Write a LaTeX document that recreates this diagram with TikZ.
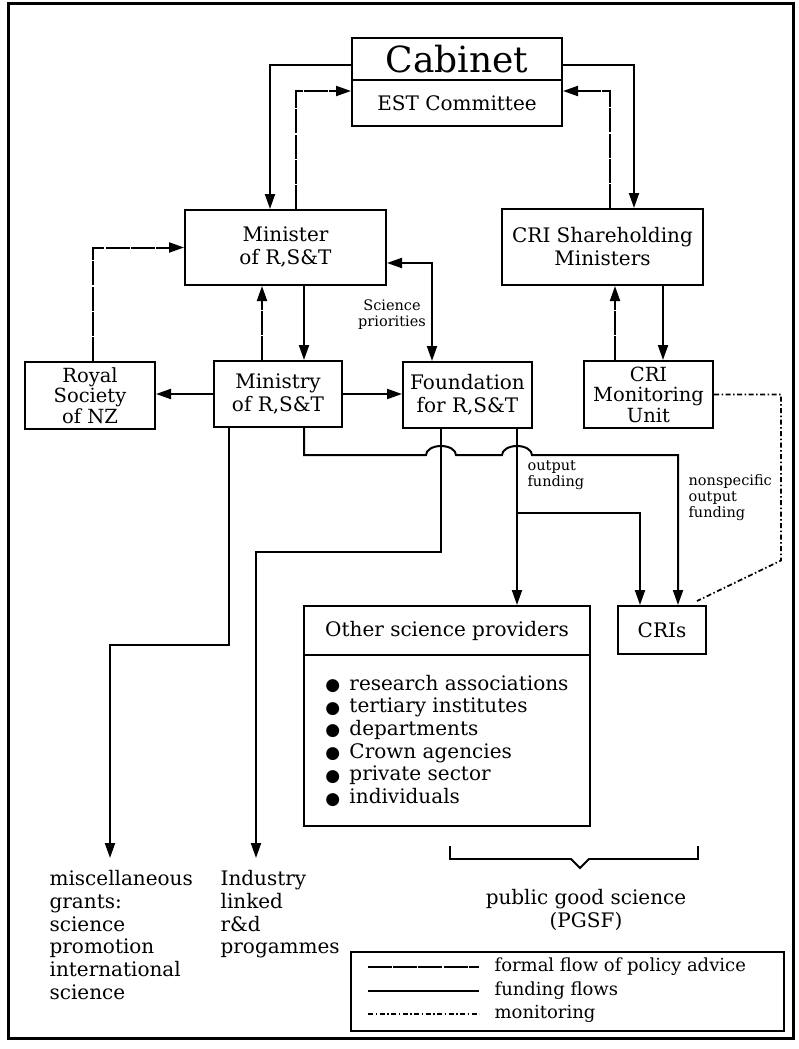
\documentclass[tikz,border=0pt]{standalone}
\usepackage{fontspec}
\setmainfont{DejaVu Serif}
\newfontfamily\symfont{DejaVu Sans}
\newcommand{\blt}{\makebox[24pt][l]{\symfont\fontsize{17}{0}\selectfont\raisebox{-0.5pt}{●}}}
\usetikzlibrary{arrows.meta}

\begin{document}
\begin{tikzpicture}[x=1pt,y=-1pt,line width=1.2pt,
  box/.style={draw,line width=2pt,inner sep=0pt,align=center,font=\fontsize{20}{23}\selectfont},
  plain/.style={inner sep=0pt,align=left,font=\fontsize{20}{22.7}\selectfont},
  small/.style={inner sep=0pt,align=left,font=\fontsize{14.5}{16}\selectfont},
  flow/.style={line width=2pt},
  pol/.style={flow,dash pattern=on 24pt off 1.2pt},
  mon/.style={line width=1.7pt,dash pattern=on 5pt off 2.5pt on 1.5pt off 2.5pt},
  tip/.style={-{Triangle[length=15pt,width=10pt]}},
  tips/.style={{Triangle[length=15pt,width=10pt]}-{Triangle[length=15pt,width=10pt]}}]
\path[use as bounding box] (0,0) rectangle (799,1049);
\draw[line width=3pt] (8,4) rectangle (793,1038);
% boxes
\node[box,minimum width=210pt,minimum height=42pt,font=\fontsize{36}{36}\selectfont] (cab) at (457,59) {Cabinet};
\node[box,minimum width=210pt,minimum height=46pt] (est) at (457,103) {EST Committee};
\node[box,minimum width=201pt,minimum height=75pt] (min) at (285.5,247.5) {Minister\\of R,S\&T};
\node[box,minimum width=201pt,minimum height=76pt] (crish) at (602.5,247) {CRI Shareholding\\Ministers};
\node[box,minimum width=130pt,minimum height=67pt,font=\fontsize{19.5}{20.5}\selectfont] (roy) at (90,395.5) {Royal\\Society\\of NZ};
\node[box,minimum width=128pt,minimum height=66pt] (mry) at (278,394) {Ministry\\of R,S\&T};
\node[box,minimum width=129pt,minimum height=66pt] (fnd) at (467.5,395) {Foundation\\for R,S\&T};
\node[box,minimum width=129pt,minimum height=67pt,font=\fontsize{19.5}{20.5}\selectfont] (crimon) at (648.5,394.5) {CRI\\Monitoring\\Unit};
\node[box,minimum width=286pt,minimum height=49pt] (osp) at (447,630.5) {Other science providers};
\node[box,minimum width=286pt,minimum height=171pt,align=left,font=\fontsize{20}{22.7}\selectfont] (lst) at (447,740.5)
  {\blt research associations\\\blt tertiary institutes\\\blt departments\\
   \blt Crown agencies\\\blt private sector\\\blt individuals};
\node[box,minimum width=88pt,minimum height=48pt] (cris) at (662,630) {CRIs};
% texts
\node[small,align=center] (prio) at (392,315) {Science\\priorities};
\node[small,anchor=west] (outf) at (527,475) {output\\funding};
\node[small,anchor=west] (nons) at (688,498) {nonspecific\\output\\funding};
\node[plain,anchor=north west] (misc) at (49,870) {miscellaneous\\grants:\\science\\promotion\\international\\science};
\node[plain,anchor=north west] (ind) at (220,870) {Industry\\linked\\r\&d\\progammes};
\node[plain,align=center] (pgs) at (586,910) {public good science\\(PGSF)};
% cabinet links
\draw[flow,tip] ([yshift=-6pt]cab.west) -| ([xshift=-15.5pt]min.north);
\draw[pol,tip] ([xshift=10.5pt]min.north) |- ([yshift=12pt]est.west);
\draw[flow,tip] ([yshift=-6pt]cab.east) -| ([xshift=31.5pt]crish.north);
\draw[pol,tip] ([xshift=7.5pt]crish.north) |- ([yshift=12pt]est.east);
% minister links
\draw[pol,tip] ([xshift=3pt]roy.north) |- (min.west);
\draw[pol,tip] ([xshift=-16pt]mry.north) -- ([xshift=-16pt]mry.north |- min.south);
\draw[flow,tip] ([xshift=18.5pt]min.south) -- ([xshift=18.5pt]min.south |- mry.north);
\draw[flow,tips] ([yshift=-15.5pt]min.east) -| ([xshift=-35.5pt]fnd.north);
\draw[pol,tip] ([xshift=-33.5pt]crimon.north) -- ([xshift=-33.5pt]crimon.north |- crish.south);
\draw[flow,tip] ([xshift=14.5pt]crimon.north |- crish.south) -- ([xshift=14.5pt]crimon.north);
% funding
\draw[flow,tip] (mry.west) -- (mry.west -| roy.east);
\draw[flow,tip] (mry.east) -- (mry.east -| fnd.west);
\path ([xshift=-26.5pt,yshift=-26pt]fnd.south) coordinate (hopA)
      ([xshift=49.5pt,yshift=-26pt]fnd.south) coordinate (hopB);
\draw[flow,tip] ([xshift=26pt]mry.south) |- ([xshift=-15pt]hopA)
  arc[start angle=180,end angle=0,x radius=15pt,y radius=9pt] -- ([xshift=-15pt]hopB)
  arc[start angle=180,end angle=0,x radius=15pt,y radius=9pt] -| ([xshift=16pt]cris.north);
\draw[flow,tip] ([xshift=-49pt]mry.south) -- ++(0,217) -| ([xshift=61pt,yshift=12pt]misc.north west);
\draw[flow,tip] (hopA |- fnd.south) -- ++(0,123) -| ([xshift=36pt,yshift=12pt]ind.north west);
\draw[flow,tip] (hopB |- fnd.south) -- (hopB |- osp.north);
\draw[flow,tip] ([yshift=-58pt]hopB) -| ([xshift=-22pt]cris.north);
\draw[mon] (crimon.east) -- ++(67,0) -- ++(0,166) -- ([xshift=-10pt,yshift=4pt]cris.north east);
% PGSF bracket
\draw[line width=1.8pt] (450,846) -- (450,859) -- (571,859) -- (580,868) -- (589,859) -- (698,859) -- (698,846);
% legend
\node[draw,line width=2pt,minimum width=433pt,minimum height=79pt] (leg) at (567.5,991.5) {};
\node[plain,anchor=west,font=\fontsize{18}{20}\selectfont] (lga) at (494,967) {formal flow of policy advice};
\node[plain,anchor=west,font=\fontsize{18}{20}\selectfont] (lgb) at (494,991) {funding flows};
\node[plain,anchor=west,font=\fontsize{18}{20}\selectfont] (lgc) at (494,1014) {monitoring};
\draw[pol] ([xshift=-126pt]lga.west) -- ([xshift=-15pt]lga.west);
\draw[flow] ([xshift=-126pt]lgb.west) -- ([xshift=-15pt]lgb.west);
\draw[mon] ([xshift=-126pt]lgc.west) -- ([xshift=-15pt]lgc.west);
\end{tikzpicture}
\end{document}
